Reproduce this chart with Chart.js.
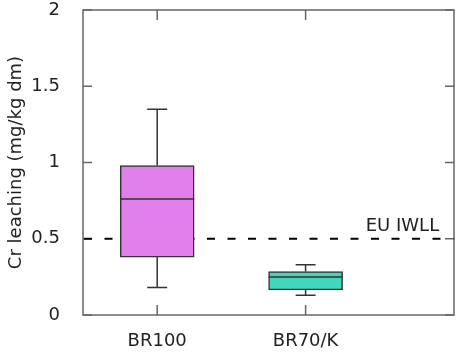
<!DOCTYPE html>
<html lang="en">
<head>
    <meta charset="UTF-8">
    <title>Cr leaching</title>
    <script src="https://cdn.jsdelivr.net/npm/chart.js"></script>
    <style>
        body {
            margin: 0;
            padding: 0;
            background-color: #ffffff;
        }

        #wrap {
            width: 457px;
            height: 353px;
        }
    </style>
</head>
<body>
    <div id="wrap">
        <canvas id="box-chart"></canvas>
    </div>
    <script>
        // Box plot values (mg/kg dm)
        const categories = ["BR100", "BR70/K"];
        const whiskerLow = [0.18, 0.13];
        const q1 = [0.38, 0.165];
        const median = [0.76, 0.25];
        const q3 = [0.98, 0.285];
        const whiskerHigh = [1.35, 0.33];
        const boxColors = ["#e07eea", "#42d6bb"];

        // EU limit line
        const iwllValue = 0.5;
        const iwllLabel = "EU IWLL";

        const yTicks = [0, 0.5, 1, 1.5, 2];
        const xPositions = categories.map((c, i) => i + 1);

        const fontFamily = "'DejaVu Sans', Verdana, sans-serif";
        const textColor = "#222";
        const frameColor = "#666";
        const boxLine = "#333";

        // Frame, inward ticks, whiskers, medians and the limit label
        const boxPlotPlugin = {
            id: "boxPlot",
            beforeDatasetsDraw(chart) {
                const { ctx, chartArea: a, scales: { x, y } } = chart;
                ctx.save();
                ctx.strokeStyle = frameColor;
                ctx.lineWidth = 1.5;
                ctx.beginPath();
                yTicks.forEach(v => {
                    const py = y.getPixelForValue(v);
                    ctx.moveTo(a.left, py); ctx.lineTo(a.left + 9, py);
                    ctx.moveTo(a.right, py); ctx.lineTo(a.right - 9, py);
                });
                xPositions.forEach(v => {
                    const px = x.getPixelForValue(v);
                    ctx.moveTo(px, a.bottom); ctx.lineTo(px, a.bottom - 10);
                    ctx.moveTo(px, a.top); ctx.lineTo(px, a.top + 10);
                });
                ctx.stroke();
                ctx.restore();
            },
            afterDatasetsDraw(chart) {
                const { ctx, chartArea: a, scales: { x, y } } = chart;
                ctx.save();
                ctx.strokeStyle = boxLine;
                ctx.lineWidth = 1.5;
                const half = 37;
                const cap = 10;
                xPositions.forEach((v, i) => {
                    const px = x.getPixelForValue(v);
                    ctx.beginPath();
                    // whiskers
                    ctx.moveTo(px, y.getPixelForValue(q3[i]));
                    ctx.lineTo(px, y.getPixelForValue(whiskerHigh[i]));
                    ctx.moveTo(px, y.getPixelForValue(q1[i]));
                    ctx.lineTo(px, y.getPixelForValue(whiskerLow[i]));
                    // caps
                    ctx.moveTo(px - cap, y.getPixelForValue(whiskerHigh[i]));
                    ctx.lineTo(px + cap, y.getPixelForValue(whiskerHigh[i]));
                    ctx.moveTo(px - cap, y.getPixelForValue(whiskerLow[i]));
                    ctx.lineTo(px + cap, y.getPixelForValue(whiskerLow[i]));
                    // median
                    ctx.moveTo(px - half, y.getPixelForValue(median[i]));
                    ctx.lineTo(px + half, y.getPixelForValue(median[i]));
                    ctx.stroke();
                });

                // frame
                ctx.strokeStyle = frameColor;
                ctx.strokeRect(a.left, a.top, a.right - a.left, a.bottom - a.top);

                // limit label
                ctx.fillStyle = textColor;
                ctx.font = "18px " + fontFamily;
                ctx.textAlign = "right";
                ctx.textBaseline = "alphabetic";
                ctx.fillText(iwllLabel, x.getPixelForValue(2.9), y.getPixelForValue(iwllValue) - 8);
                ctx.restore();
            }
        };

        new Chart(document.getElementById("box-chart").getContext("2d"), {
            type: "bar",
            data: {
                datasets: [{
                    label: "boxes",
                    data: xPositions.map((v, i) => ({ x: v, y: [q1[i], q3[i]] })),
                    backgroundColor: boxColors,
                    borderColor: boxLine,
                    borderWidth: 1.5,
                    borderSkipped: false,
                    barThickness: 74
                }, {
                    type: "line",
                    label: iwllLabel,
                    data: [{ x: 0.5, y: iwllValue }, { x: 3, y: iwllValue }],
                    borderColor: "#000",
                    borderWidth: 2,
                    borderDash: [8, 12.5],
                    borderDashOffset: 19.5,
                    pointRadius: 0
                }]
            },
            options: {
                responsive: true,
                maintainAspectRatio: false,
                animation: false,
                layout: { padding: { top: 10, right: 3, bottom: 0, left: 0 } },
                plugins: {
                    legend: { display: false },
                    tooltip: { enabled: false }
                },
                scales: {
                    x: {
                        type: "linear",
                        min: 0.5,
                        max: 3,
                        offset: false,
                        grid: { display: false },
                        border: { display: false },
                        afterBuildTicks: s => { s.ticks = xPositions.map(v => ({ value: v })); },
                        afterFit: s => { s.height = 38; },
                        ticks: {
                            padding: 8,
                            color: textColor,
                            font: { family: fontFamily, size: 18 },
                            callback: v => categories[v - 1]
                        }
                    },
                    y: {
                        min: 0,
                        max: 2,
                        grid: { display: false },
                        border: { display: false },
                        afterBuildTicks: s => { s.ticks = yTicks.map(v => ({ value: v })); },
                        afterFit: s => { s.width = 83; s.paddingTop = 0; s.paddingBottom = 0; },
                        title: {
                            display: true,
                            text: "Cr leaching (mg/kg dm)",
                            color: textColor,
                            font: { family: fontFamily, size: 18 },
                            padding: { top: 6, bottom: 0 }
                        },
                        ticks: {
                            padding: 15,
                            color: textColor,
                            font: { family: fontFamily, size: 18 },
                            callback: v => String(v)
                        }
                    }
                }
            },
            plugins: [boxPlotPlugin]
        });
    </script>
</body>
</html>
